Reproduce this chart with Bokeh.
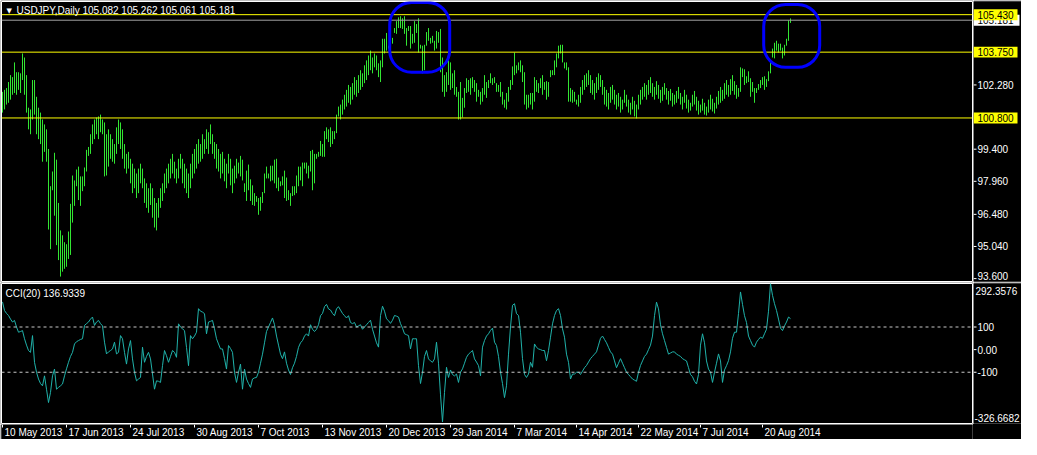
from bokeh.plotting import figure
from bokeh.models import Span, Label, BoxAnnotation, Range1d, Spacer
from bokeh.layouts import column, row
from bokeh.core.properties import value
from bokeh.embed import file_html
from bokeh.resources import INLINE

SYMBOL_TITLE = "USDJPY,Daily  105.082 105.262 105.061 105.181"
CCI_TITLE = "CCI(20) 136.9339"

HIGH = [
    101.97, 102.06, 102.14, 102.41, 102.72, 102.63, 103.29, 102.85, 102.85, 102.80,
    103.69, 103.51, 102.72, 101.26, 101.18, 102.50, 102.50, 101.75, 101.26, 101.04,
    100.73, 100.51, 100.29, 99.41, 97.74, 98.40, 99.24, 98.93, 96.99, 95.76,
    95.54, 95.23, 95.14, 95.71, 96.95, 98.22, 98.00, 98.49, 98.62, 98.18,
    98.18, 98.58, 99.37, 99.50, 100.07, 100.51, 100.73, 100.82, 100.87, 100.95,
    100.73, 100.60, 100.07, 100.29, 100.07, 99.85, 99.63, 100.38, 100.73, 100.60,
    100.29, 99.63, 99.19, 99.28, 98.97, 98.75, 98.53, 98.31, 98.53, 98.75,
    98.53, 98.09, 97.87, 97.65, 97.87, 97.65, 97.21, 96.99, 97.21, 97.65,
    97.87, 98.31, 98.53, 98.75, 98.97, 99.19, 98.84, 98.53, 98.97, 99.19,
    98.97, 98.75, 98.53, 98.31, 98.75, 99.19, 99.41, 99.63, 99.85, 99.63,
    100.07, 99.85, 100.29, 100.16, 100.51, 100.07, 99.72, 99.63, 99.41, 99.19,
    99.28, 98.97, 98.75, 99.19, 98.97, 98.53, 98.66, 98.97, 98.80, 99.10,
    98.93, 97.87, 98.44, 98.71, 98.05, 97.78, 97.43, 97.30, 97.21, 97.26,
    97.48, 98.31, 98.62, 98.31, 98.66, 98.66, 98.93, 98.97, 98.13, 97.96,
    98.18, 98.44, 98.13, 97.56, 97.43, 97.74, 97.74, 98.22, 98.62, 98.62,
    98.80, 98.80, 98.80, 98.66, 99.32, 99.37, 99.19, 99.19, 99.28, 99.77,
    99.63, 100.21, 100.38, 100.29, 100.38, 100.21, 100.21, 100.95, 101.31, 101.40,
    101.62, 101.84, 102.06, 102.28, 102.19, 102.36, 102.63, 102.50, 102.72, 102.94,
    102.80, 103.16, 103.38, 103.60, 103.82, 103.51, 103.69, 103.60, 103.25, 103.38,
    104.35, 104.35, 104.61, 104.04, 104.17, 104.39, 104.83, 105.14, 105.31, 105.36,
    105.27, 105.36, 104.83, 104.92, 104.92, 104.57, 105.14, 105.01, 105.27, 104.08,
    104.04, 104.08, 104.65, 104.83, 104.39, 104.48, 104.26, 104.70, 104.65, 104.79,
    103.51, 102.72, 102.85, 103.38, 103.29, 102.80, 102.94, 102.19, 101.97, 102.41,
    101.70, 102.14, 102.58, 102.50, 102.58, 102.63, 102.50, 102.36, 102.06, 101.97,
    102.14, 102.72, 102.41, 102.50, 102.80, 102.58, 102.63, 102.36, 102.28, 102.41,
    101.97, 101.62, 101.92, 102.19, 102.50, 103.11, 103.73, 103.16, 103.29, 103.38,
    103.16, 102.85, 101.84, 101.84, 101.92, 101.92, 102.63, 102.50, 102.36, 102.58,
    102.72, 102.41, 102.45, 102.41, 102.94, 102.94, 103.38, 103.69, 104.04, 104.08,
    104.08, 103.29, 103.29, 103.07, 102.14, 102.06, 101.97, 101.62, 101.84, 102.19,
    102.50, 102.72, 102.80, 102.94, 102.72, 102.50, 102.36, 102.63, 102.80, 102.72,
    102.50, 102.19, 102.06, 101.92, 102.19, 102.28, 102.06, 101.84, 101.92, 101.75,
    101.62, 102.06, 101.84, 101.62, 101.48, 101.75, 101.57, 101.40, 101.84, 102.06,
    102.19, 102.36, 102.28, 102.50, 102.63, 102.36, 102.19, 102.45, 102.28, 102.06,
    102.19, 102.36, 102.14, 102.01, 102.10, 101.92, 101.84, 102.01, 102.19, 101.92,
    101.75, 102.06, 101.84, 101.62, 101.48, 101.84, 102.01, 101.75, 101.57, 101.40,
    101.66, 101.48, 101.31, 101.62, 101.84, 101.66, 101.48, 101.75, 102.01, 102.19,
    102.06, 102.36, 102.50, 102.28, 102.54, 102.72, 102.45, 102.28, 102.14, 103.07,
    103.02, 102.98, 102.67, 102.89, 102.58, 102.41, 102.14, 102.14, 102.32, 102.50,
    102.63, 102.67, 102.54, 102.89, 103.38, 103.91, 104.17, 104.26, 104.13, 104.13,
    103.95, 104.08, 104.35, 105.18, 105.262,
]

LOW = [
    101.04, 101.18, 101.40, 101.48, 101.62, 101.84, 101.92, 101.84, 102.06, 101.92,
    102.50, 101.84, 101.04, 100.29, 100.07, 100.73, 100.95, 100.07, 99.85, 99.63,
    98.84, 99.28, 98.84, 95.80, 94.92, 97.56, 96.42, 95.10, 94.43, 93.69,
    93.91, 94.04, 94.13, 94.48, 94.66, 96.11, 96.86, 97.74, 97.12, 96.86,
    97.52, 97.74, 98.40, 99.10, 99.19, 99.63, 99.85, 100.07, 99.85, 100.16,
    100.07, 98.18, 98.22, 98.62, 98.97, 98.84, 98.75, 99.19, 99.63, 99.41,
    98.97, 98.53, 98.31, 98.53, 97.87, 97.43, 97.65, 97.21, 97.43, 97.87,
    97.65, 96.99, 96.77, 96.55, 96.90, 96.33, 95.89, 95.76, 96.33, 96.77,
    97.08, 97.43, 97.65, 97.87, 98.09, 98.31, 98.09, 97.87, 98.09, 98.53,
    97.87, 97.65, 97.43, 97.21, 97.65, 98.09, 98.31, 98.53, 98.75, 98.84,
    98.97, 99.19, 99.41, 99.19, 99.63, 99.19, 98.97, 98.53, 98.40, 98.09,
    98.31, 97.96, 97.65, 98.31, 97.78, 97.43, 97.87, 98.09, 98.31, 98.18,
    98.00, 97.48, 97.08, 97.56, 97.08, 96.90, 96.86, 97.04, 96.46, 96.64,
    96.99, 97.43, 98.09, 98.09, 97.96, 98.00, 97.87, 97.65, 97.52, 97.74,
    97.78, 97.21, 97.08, 97.12, 96.86, 97.30, 97.34, 97.43, 97.74, 98.00,
    97.74, 98.53, 98.31, 98.09, 98.40, 97.56, 97.87, 98.97, 99.06, 99.10,
    99.06, 99.06, 99.85, 99.72, 99.50, 99.63, 99.85, 100.12, 100.87, 100.73,
    100.95, 101.18, 101.31, 101.48, 101.40, 101.62, 101.84, 101.75, 101.92, 102.06,
    102.19, 102.36, 102.50, 102.72, 102.94, 102.80, 103.07, 102.94, 102.63, 102.41,
    103.07, 103.69, 103.82, 103.91, 103.69, 104.13, 104.61, 104.57, 104.83, 104.83,
    104.79, 104.57, 104.04, 104.70, 103.91, 104.13, 104.17, 104.61, 103.73, 103.91,
    102.80, 102.94, 104.04, 104.26, 104.13, 104.17, 103.82, 103.91, 104.17, 102.85,
    101.97, 101.75, 101.97, 102.28, 102.06, 102.14, 101.84, 101.75, 100.73, 100.73,
    100.82, 101.26, 101.92, 101.97, 101.84, 102.14, 101.97, 101.53, 101.75, 101.40,
    101.53, 101.84, 101.70, 102.14, 102.36, 102.28, 102.36, 101.97, 101.97, 101.75,
    101.40, 101.26, 101.18, 101.53, 102.06, 102.28, 102.72, 102.80, 102.94, 102.85,
    102.41, 101.40, 101.18, 101.26, 101.40, 101.18, 101.53, 101.97, 101.92, 102.14,
    101.84, 102.06, 101.62, 101.75, 102.63, 102.72, 102.72, 103.07, 103.47, 103.69,
    103.29, 103.02, 102.94, 101.53, 101.53, 101.48, 101.53, 101.40, 101.31, 101.48,
    101.84, 102.06, 102.19, 102.28, 101.92, 101.84, 101.62, 101.92, 102.06, 102.19,
    101.84, 101.40, 101.31, 101.18, 101.48, 101.62, 101.40, 101.18, 101.31, 101.04,
    101.18, 101.48, 101.31, 101.04, 100.95, 101.18, 100.87, 100.78, 101.18, 101.40,
    101.62, 101.75, 101.62, 101.84, 101.92, 101.75, 101.62, 101.84, 101.66, 101.48,
    101.57, 101.84, 101.62, 101.40, 101.57, 101.31, 101.40, 101.48, 101.66, 101.40,
    101.18, 101.48, 101.22, 101.04, 101.13, 101.31, 101.40, 101.13, 100.95, 101.04,
    101.13, 100.95, 100.91, 101.04, 101.18, 101.09, 101.00, 101.22, 101.40, 101.48,
    101.57, 101.66, 101.84, 101.75, 101.84, 102.01, 101.84, 101.66, 101.75, 101.97,
    102.63, 102.28, 102.36, 102.41, 101.75, 101.97, 101.48, 101.92, 102.06, 102.14,
    102.28, 102.06, 102.19, 102.45, 102.80, 103.51, 103.47, 103.82, 103.73, 103.82,
    103.47, 103.60, 104.04, 104.26, 105.061,
]

CCI = [
    211, 173, 160, 151, 135, 122, 129, 100, 77, 80,
    84, 48, 20, -4, -12, 62, -56, -100, -130, -150,
    -160, -116, -175, -234, -189, -116, -86, -175, -167, -160,
    -152, -116, -85, -56, -30, -12, 25, 35, 40, 45,
    48, 107, 115, 122, 135, 144, 107, 122, 129, 115,
    105, 33, -19, -10, -4, 3, 33, -19, -12, 62,
    48, -12, -64, 3, 40, -41, -100, -138, -130, -123,
    11, -56, -30, -12, -41, -108, -175, -138, -140, -145,
    -71, -4, -27, -56, -30, -4, -12, -34, 114, 100,
    92, 84, 10, -71, 62, 48, 60, 77, 181, 170,
    166, 159, 70, 122, 125, 129, 92, 48, 25, 3,
    3, -40, -86, 18, 5, -12, -100, -145, -100, -64,
    -175, -86, -130, -150, -167, -130, -125, -123, -100, -60,
    -20, 30, 80, 100, 120, 140, 110, 60, 20, -20,
    -40, -10, -60, -90, -110, -80, -60, -30, 10, 30,
    40, 60, 70, 60, 110, 90, 80, 90, 110, 150,
    160, 190, 200, 180, 175, 160, 150, 180, 190, 175,
    160, 150, 140, 150, 120, 115, 120, 100, 105, 110,
    90, 100, 110, 120, 130, 90, 60, 30, 11, 150,
    192, 170, 136, 128, 116, 130, 151, 148, 144, 115,
    95, 70, 66, 62, 3, 48, 48, 48, -71, -150,
    -100, -30, -4, -41, -50, -56, -41, 33, -60, -200,
    -320, -189, -78, -123, -90, -110, -116, -108, -145, -100,
    -85, -60, -34, -20, -12, -4, -41, -55, -71, -116,
    11, 40, 60, 70, 85, 95, 33, 18, -30, -100,
    -150, -212, -160, -20, 100, 196, 203, 159, 151, 77,
    -40, -110, -123, -108, -56, -78, 25, 10, 3, 0,
    -4, -4, -49, -4, 55, 114, 151, 173, 181, 151,
    92, 55, -20, -56, -130, -108, -108, -100, -100, -110,
    -95, -80, -70, -55, -40, -30, -20, -10, 20, 50,
    60, 45, 30, 10, -10, -20, -50, -80, -60, -40,
    -60, -80, -100, -110, -120, -130, -135, -140, -100, -70,
    -50, -30, -20, 0, 20, 60, 150, 210, 180, 110,
    70, 40, 10, -20, -15, -10, -10, -20, -25, -30,
    -40, -45, -50, -80, -110, -120, -140, -152, -110, 20,
    70, 30, -50, -86, -100, -145, -100, -60, -19, -50,
    -145, -90, -71, -49, -10, 50, 77, 77, 160, 255,
    200, 150, 120, 60, 40, 20, 11, 33, 45, 55,
    50, 70, 90, 170, 292, 240, 203, 173, 135, 95,
    84, 105, 122, 144, 136.93,
]

DATE_TICKS = [0, 32, 64, 96, 128, 160, 192, 224, 256, 287, 318, 349, 380]
DATE_LABELS = ["10 May 2013", "17 Jun 2013", "24 Jul 2013", "30 Aug 2013", "7 Oct 2013",
               "13 Nov 2013", "20 Dec 2013", "29 Jan 2014", "7 Mar 2014", "14 Apr 2014",
               "22 May 2014", "7 Jul 2014", "20 Aug 2014"]
PRICE_TICKS = [102.28, 99.40, 97.96, 96.48, 95.04, 93.60]
PRICE_TICK_LABELS = ["102.280", "99.400", "97.960", "96.480", "95.040", "93.600"]
PRICE_LEVELS = [105.430, 103.750, 100.800]
PRICE_LEVEL_LABELS = ["105.430", "103.750", "100.800"]
LAST_PRICE = 105.181
LAST_PRICE_LABEL = "105.181"
PRICE_RANGE = (93.47, 106.02)
CCI_TICKS = [292.3576, 100, 0, -100, -326.6682]
CCI_TICK_LABELS = ["292.3576", "100", "0.00", "-100", "-326.6682"]
CCI_LEVELS = [100, -100]
# hand-drawn highlight shapes: (left bar, right bar, top price, bottom price)
HIGHLIGHTS = [(193.6, 223.6, 105.98, 102.85), (380.6, 408.6, 105.89, 103.07)]

FONT = "Liberation Sans"
BAR_COLOR = "#32e632"
CCI_COLOR = "#20b2aa"
MAIN_W = 973
AXIS_W = 1021 - MAIN_W
FRAME_W = MAIN_W - 2
MAIN_H = 282
CCI_H = 142
DATE_H = 15
BOX_HALF = 0.245  # half height of the price-label boxes, in price units
X_RANGE = (-0.5, -0.5 + FRAME_W / 2.0)  # 2 px per daily bar


def base_fig(width, height, x_range, y_range, outline=True):
    f = figure(width=width, height=height, x_range=x_range, y_range=y_range,
               output_backend="svg", toolbar_location=None,
               x_axis_location=None, y_axis_location=None,
               min_border_left=1 if outline else 0, min_border_right=1 if outline else 0,
               min_border_top=1, min_border_bottom=1,
               background_fill_color="black", border_fill_color="black",
               outline_line_color="white" if outline else None)
    f.grid.visible = False
    return f


idx = list(range(len(HIGH)))
xr = Range1d(*X_RANGE)
yr_price = Range1d(*PRICE_RANGE)
yr_cci = Range1d(CCI_TICKS[-1], CCI_TICKS[0])

# ---------------- price panel ----------------
p = base_fig(MAIN_W, MAIN_H, xr, yr_price)
for lv in PRICE_LEVELS:
    p.add_layout(Span(location=lv, dimension="width", line_color="#ffff00", line_width=1))
p.add_layout(Span(location=LAST_PRICE, dimension="width", line_color="#a0a0a0", line_width=1))
p.segment(x0=idx, y0=LOW, x1=idx, y1=HIGH, line_color=BAR_COLOR, line_width=1)
for (l, r, t, b) in HIGHLIGHTS:
    p.add_layout(BoxAnnotation(left=l, right=r, top=t, bottom=b, fill_alpha=0,
                               line_color="#0000ff", line_alpha=1.0, line_width=3,
                               border_radius=22))
fh = MAIN_H - 2
p.add_layout(Label(x=5, y=fh - 9, x_units="screen", y_units="screen", text="▼",
                   text_color="white", text_font="DejaVu Sans", text_font_size="7px",
                   text_baseline="middle"))
p.add_layout(Label(x=15, y=fh - 9, x_units="screen", y_units="screen", text=SYMBOL_TITLE,
                   text_color="white", text_font=FONT, text_font_size="10px",
                   text_baseline="middle"))

# price scale
pa = base_fig(AXIS_W, MAIN_H, Range1d(0, AXIS_W), yr_price, outline=False)
pa.segment(x0=[0] * len(PRICE_TICKS), x1=[3] * len(PRICE_TICKS), y0=PRICE_TICKS, y1=PRICE_TICKS,
           line_color="white", line_width=1)
pa.text(x=[4] * (len(PRICE_TICKS) - 1), y=PRICE_TICKS[:-1], text=PRICE_TICK_LABELS[:-1],
        text_color="white", text_font=value(FONT), text_font_size="10px",
        text_baseline="middle", text_align="left")
pa.text(x=[4], y=PRICE_TICKS[-1:], text=PRICE_TICK_LABELS[-1:], y_offset=-3,
        text_color="white", text_font=value(FONT), text_font_size="10px",
        text_baseline="middle", text_align="left")
pa.quad(left=[0], right=[AXIS_W - 2], top=[LAST_PRICE + BOX_HALF], bottom=[LAST_PRICE - BOX_HALF],
        fill_color="white", line_color=None)
pa.text(x=[4], y=[LAST_PRICE], text=[LAST_PRICE_LABEL], text_color="black",
        text_font=value(FONT), text_font_size="10px", text_baseline="middle", text_align="left")
pa.quad(left=[0] * 3, right=[AXIS_W - 4] * 3, top=[v + BOX_HALF for v in PRICE_LEVELS],
        bottom=[v - BOX_HALF for v in PRICE_LEVELS], fill_color="#ffff00", line_color=None)
pa.text(x=[4] * 3, y=PRICE_LEVELS, text=PRICE_LEVEL_LABELS, text_color="black",
        text_font=value(FONT), text_font_size="10px", text_baseline="middle", text_align="left")

# ---------------- CCI panel ----------------
c = base_fig(MAIN_W, CCI_H, xr, yr_cci)
for lv in CCI_LEVELS:
    c.add_layout(Span(location=lv, dimension="width", line_color="#c8c8c8",
                      line_width=1, line_dash="3 3"))
c.line(idx, CCI, line_color=CCI_COLOR, line_width=1)
c.add_layout(Label(x=4, y=CCI_H - 2 - 10, x_units="screen", y_units="screen", text=CCI_TITLE,
                   text_color="white", text_font=FONT, text_font_size="10px",
                   text_baseline="middle"))

ca = base_fig(AXIS_W, CCI_H, Range1d(0, AXIS_W), yr_cci, outline=False)
ca.segment(x0=[0] * 3, x1=[3] * 3, y0=CCI_TICKS[1:4], y1=CCI_TICKS[1:4],
           line_color="white", line_width=1)
ca.text(x=[2], y=[CCI_TICKS[0]], text=[CCI_TICK_LABELS[0]], text_color="white",
        text_font=value(FONT), text_font_size="10px", text_baseline="top", text_align="left",
        y_offset=3)
ca.text(x=[4] * 3, y=CCI_TICKS[1:4], text=CCI_TICK_LABELS[1:4], text_color="white",
        text_font=value(FONT), text_font_size="10px", text_baseline="middle", text_align="left")
ca.text(x=[1], y=[CCI_TICKS[-1]], text=[CCI_TICK_LABELS[-1]], text_color="white",
        text_font=value(FONT), text_font_size="10px", text_baseline="bottom", text_align="left",
        y_offset=-2)

# ---------------- date scale ----------------
d = figure(width=MAIN_W, height=DATE_H, x_range=xr, y_range=Range1d(0, DATE_H),
           output_backend="svg", toolbar_location=None,
           x_axis_location=None, y_axis_location=None,
           min_border_left=1, min_border_right=1, min_border_top=0, min_border_bottom=0,
           background_fill_color="black", border_fill_color="black", outline_line_color=None)
d.grid.visible = False
d.segment(x0=DATE_TICKS, x1=DATE_TICKS, y0=[DATE_H] * len(DATE_TICKS),
          y1=[DATE_H - 3] * len(DATE_TICKS), line_color="white", line_width=1)
d.text(x=DATE_TICKS, y=[DATE_H - 2] * len(DATE_TICKS), text=DATE_LABELS, x_offset=2,
       text_color="white", text_font=value(FONT), text_font_size="10px",
       text_baseline="top", text_align="left")

sp = Spacer(width=AXIS_W, height=DATE_H, styles={"background-color": "black"})

layout = column(row(p, pa, spacing=0), row(c, ca, spacing=0), row(d, sp, spacing=0), spacing=0)
open("out.html", "w").write(file_html(layout, INLINE))
